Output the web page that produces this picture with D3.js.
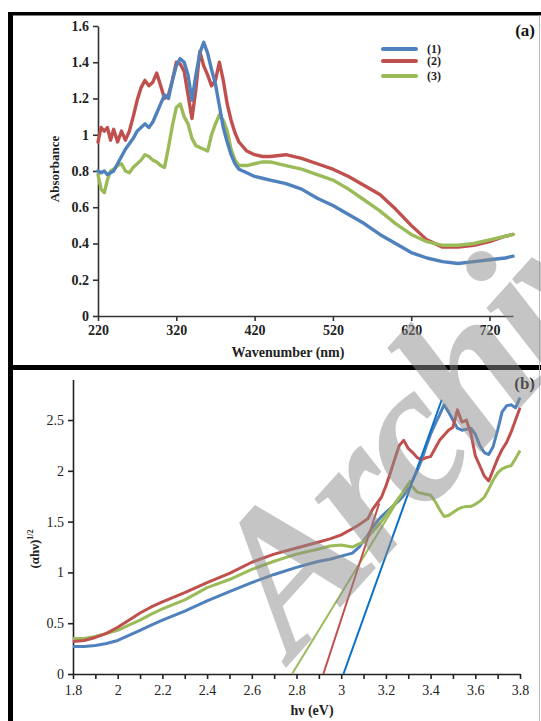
<!DOCTYPE html>
<html><head><meta charset="utf-8">
<script src="https://cdn.jsdelivr.net/npm/d3@7"></script>
<style>
html,body{margin:0;padding:0;background:#fff;}
svg{display:block;}
</style></head>
<body>
<svg id="c" width="541" height="721"></svg>
<script>
// ---------- Panel (a) data ----------
const wavelengths = [220,224,228,232,236,240,245,250,255,260,265,270,275,280,285,290,295,300,305,310,315,320,325,330,335,340,345,350,355,360,365,370,375,380,385,390,395,400,410,420,430,440,460,480,500,520,540,560,580,600,620,640,660,680,700,720,740,750];
const absorbance1 = [0.80,0.79,0.80,0.78,0.79,0.80,0.84,0.88,0.92,0.95,0.98,1.02,1.04,1.06,1.04,1.07,1.12,1.17,1.22,1.20,1.30,1.38,1.42,1.40,1.33,1.19,1.33,1.45,1.51,1.45,1.36,1.28,1.16,1.04,0.96,0.89,0.84,0.81,0.79,0.77,0.76,0.75,0.73,0.70,0.65,0.61,0.56,0.51,0.45,0.40,0.35,0.32,0.30,0.29,0.30,0.31,0.32,0.33];
const absorbance2 = [0.96,1.04,1.02,1.04,0.97,1.03,0.96,1.02,0.97,1.02,1.10,1.19,1.26,1.30,1.27,1.29,1.34,1.27,1.20,1.22,1.30,1.40,1.39,1.35,1.22,1.09,1.25,1.46,1.38,1.33,1.27,1.30,1.40,1.30,1.17,1.08,1.01,0.96,0.91,0.89,0.88,0.88,0.89,0.87,0.84,0.81,0.77,0.72,0.67,0.59,0.50,0.42,0.38,0.38,0.39,0.41,0.44,0.45];
const absorbance3 = [0.78,0.70,0.68,0.75,0.80,0.81,0.83,0.84,0.80,0.79,0.82,0.84,0.86,0.89,0.88,0.86,0.85,0.83,0.82,0.93,1.05,1.15,1.17,1.10,1.06,0.98,0.94,0.93,0.92,0.91,1.00,1.06,1.11,1.08,1.02,0.92,0.86,0.83,0.83,0.84,0.85,0.85,0.83,0.81,0.78,0.75,0.70,0.64,0.58,0.51,0.45,0.41,0.39,0.39,0.40,0.42,0.44,0.45];
const absTicks = [0,0.2,0.4,0.6,0.8,1,1.2,1.4,1.6];
const absTickLabels = ["0","0.2","0.4","0.6","0.8","1","1.2","1.4","1.6"];
const wlTicks = [220,320,420,520,620,720];
const legendLabels = ["(1)","(2)","(3)"];

// ---------- Panel (b) data ----------
const energies = [1.80,1.85,1.90,1.95,2.00,2.05,2.10,2.15,2.20,2.30,2.40,2.50,2.60,2.70,2.80,2.90,2.95,3.00,3.05,3.08,3.10,3.12,3.14,3.16,3.18,3.20,3.22,3.24,3.26,3.28,3.30,3.32,3.34,3.36,3.38,3.40,3.42,3.44,3.46,3.48,3.50,3.52,3.54,3.56,3.58,3.60,3.62,3.64,3.66,3.68,3.70,3.72,3.74,3.76,3.78,3.80];
const tauc1 = [0.27,0.27,0.28,0.30,0.33,0.38,0.43,0.48,0.53,0.62,0.72,0.81,0.90,0.98,1.05,1.11,1.13,1.16,1.19,1.25,1.31,1.37,1.44,1.50,1.55,1.59,1.63,1.67,1.71,1.76,1.83,1.91,2.00,2.11,2.24,2.36,2.46,2.55,2.65,2.58,2.50,2.42,2.40,2.41,2.42,2.36,2.25,2.18,2.16,2.24,2.40,2.58,2.64,2.65,2.62,2.72];
const tauc2 = [0.32,0.33,0.36,0.40,0.46,0.53,0.60,0.66,0.71,0.80,0.90,0.99,1.10,1.18,1.24,1.30,1.33,1.37,1.43,1.47,1.50,1.53,1.62,1.68,1.74,1.85,1.98,2.12,2.25,2.30,2.22,2.18,2.13,2.11,2.13,2.14,2.22,2.30,2.35,2.40,2.43,2.60,2.48,2.50,2.37,2.15,2.05,1.95,1.90,2.01,2.12,2.21,2.28,2.38,2.50,2.62];
const tauc3 = [0.35,0.35,0.37,0.40,0.43,0.48,0.53,0.59,0.64,0.73,0.85,0.93,1.03,1.11,1.18,1.23,1.26,1.27,1.25,1.28,1.30,1.35,1.40,1.45,1.50,1.56,1.62,1.68,1.74,1.80,1.87,1.84,1.79,1.78,1.77,1.76,1.70,1.62,1.55,1.56,1.59,1.62,1.64,1.65,1.65,1.67,1.70,1.74,1.82,1.91,1.98,2.02,2.04,2.05,2.12,2.20];
// linear fits (band-gap extrapolation): [hv start, value], [hv end, value]
const fit1 = [[3.01,0],[3.45,2.70]];
const fit2 = [[2.92,0],[3.17,1.68]];
const fit3 = [[2.78,0],[3.31,1.91]];
const taucTicks = [0,0.5,1,1.5,2,2.5];
const taucTickLabels = ["0","0.5","1","1.5","2","2.5"];
const hvTicks = [1.8,1.9,2.0,2.1,2.2,2.3,2.4,2.5,2.6,2.7,2.8,2.9,3.0,3.1,3.2,3.3,3.4,3.5,3.6,3.7,3.8];
const hvTickLabels = {"1.8":"1.8","2.0":"2","2.2":"2.2","2.4":"2.4","2.6":"2.6","2.8":"2.8","3.0":"3","3.2":"3.2","3.4":"3.4","3.6":"3.6","3.8":"3.8"};

const colors = ["#4f81bd","#c0504d","#9bbb59"];
const fitColors = ["#0a70c8","#c0504d","#9bbb59"];

const svg = d3.select("#c");
svg.append("rect").attr("width",541).attr("height",721).attr("fill","#fff");
const serif = "Liberation Serif, DejaVu Serif, Times New Roman, serif";

// ---------- Panel (a) ----------
const xa = d3.scaleLinear().domain([220,750]).range([98,513]);
const ya = d3.scaleLinear().domain([0,1.6]).range([316,26]);
const ga = svg.append("g");

const axA_y = ga.append("g").attr("transform","translate(98,0)")
  .call(d3.axisLeft(ya).tickValues(absTicks).tickFormat((d,i)=>absTickLabels[i]).tickSize(5).tickSizeOuter(0).tickPadding(4));
const axA_x = ga.append("g").attr("transform","translate(0,316)")
  .call(d3.axisBottom(xa).tickValues(wlTicks).tickFormat(d3.format("d")).tickSize(5).tickSizeOuter(0).tickPadding(4));
[axA_y,axA_x].forEach(a=>{
  a.selectAll("path,line").attr("stroke","#333").attr("stroke-width",1.6);
  a.selectAll("text").attr("font-family",serif).attr("font-weight","bold").attr("font-size",14).attr("fill","#222");
});

const seriesA = [absorbance1,absorbance2,absorbance3];
const lineA = d3.line().x(d=>xa(d[0])).y(d=>ya(d[1])).curve(d3.curveLinear);
[1,2,0].forEach(i=>{
  ga.append("path").datum(wavelengths.map((w,k)=>[w,seriesA[i][k]]))
    .attr("d",lineA).attr("fill","none").attr("stroke",colors[i])
    .attr("stroke-width",3.4).attr("stroke-linejoin","round").attr("stroke-linecap","round");
});

ga.append("text").attr("x",288).attr("y",357).attr("text-anchor","middle")
  .attr("font-family",serif).attr("font-weight","bold").attr("font-size",14).attr("fill","#222")
  .text("Wavenumber (nm)");
ga.append("text").attr("transform","translate(59,169) rotate(-90)").attr("text-anchor","middle")
  .attr("font-family",serif).attr("font-weight","bold").attr("font-size",13).attr("fill","#222")
  .text("Absorbance");
ga.append("text").attr("x",535).attr("y",36).attr("text-anchor","end")
  .attr("font-family",serif).attr("font-weight","bold").attr("font-size",17).attr("fill","#111")
  .text("(a)");

const legY = [49,61,76];
legendLabels.forEach((lab,i)=>{
  ga.append("line").attr("x1",383).attr("x2",416).attr("y1",legY[i]).attr("y2",legY[i])
    .attr("stroke",colors[i]).attr("stroke-width",4).attr("stroke-linecap","round");
  ga.append("text").attr("x",427).attr("y",legY[i]+4)
    .attr("font-family",serif).attr("font-weight","bold").attr("font-size",12).attr("fill","#222").text(lab);
});

// ---------- Panel (b) ----------
const xb = d3.scaleLinear().domain([1.8,3.8]).range([73,520]);
const yb = d3.scaleLinear().domain([0,2.9]).range([674,379.4]);
const gb = svg.append("g");

const axB_y = gb.append("g").attr("transform","translate(73,0)")
  .call(d3.axisLeft(yb).tickValues(taucTicks).tickFormat((d,i)=>taucTickLabels[i]).tickSize(5).tickSizeOuter(0).tickPadding(4));
const axB_x = gb.append("g").attr("transform","translate(0,674)")
  .call(d3.axisBottom(xb).tickValues(hvTicks).tickFormat(d=>hvTickLabels[d.toFixed(1)]||"").tickSize(5).tickSizeOuter(0).tickPadding(6));
[axB_y,axB_x].forEach(a=>{
  a.selectAll("path,line").attr("stroke","#222").attr("stroke-width",1.6);
  a.selectAll("text").attr("font-family",serif).attr("font-size",14).attr("fill","#222");
});

const seriesB = [tauc1,tauc2,tauc3];
const lineB = d3.line().x(d=>xb(d[0])).y(d=>yb(d[1]));
[0,2,1].forEach(i=>{
  gb.append("path").datum(energies.map((e,k)=>[e,seriesB[i][k]]))
    .attr("d",lineB).attr("fill","none").attr("stroke",colors[i])
    .attr("stroke-width",3).attr("stroke-linejoin","round");
});
[fit3,fit2,fit1].forEach((f,j)=>{
  const i = 2-j;
  gb.append("path").datum(f).attr("d",lineB).attr("fill","none")
    .attr("stroke",fitColors[i]).attr("stroke-width",2);
});

gb.append("text").attr("x",312).attr("y",715).attr("text-anchor","middle")
  .attr("font-family",serif).attr("font-weight","bold").attr("font-size",14).attr("fill","#222")
  .text("hν (eV)");
const yl = gb.append("text").attr("transform","translate(39,549) rotate(-90)").attr("text-anchor","middle")
  .attr("font-family",serif).attr("font-weight","bold").attr("font-size",13).attr("fill","#222");
yl.append("tspan").text("(αhν)");
yl.append("tspan").attr("dy",-6).attr("font-size",8).text("1/2");
gb.append("text").attr("x",535).attr("y",389).attr("text-anchor","end")
  .attr("font-family",serif).attr("font-weight","bold").attr("font-size",17).attr("fill","#111")
  .text("(b)");

// ---------- frame ----------
svg.append("rect").attr("x",8).attr("y",12).attr("width",533).attr("height",3.5).attr("fill","#000");
svg.append("rect").attr("x",8).attr("y",12).attr("width",5).attr("height",709).attr("fill","#000");
svg.append("rect").attr("x",8).attr("y",365).attr("width",533).attr("height",5).attr("fill","#000");
svg.append("rect").attr("x",539).attr("y",15).attr("width",1).attr("height",706).attr("fill","#bbb");

// ---------- watermark ----------
svg.append("text").attr("transform","translate(293,660) rotate(-48)")
  .attr("font-family",serif).attr("font-weight","bold").attr("font-style","italic")
  .attr("font-size",200).attr("letter-spacing",-8).attr("fill","#8c8c8c").attr("fill-opacity",0.5)
  .text("Archive");
</script>
</body></html>
